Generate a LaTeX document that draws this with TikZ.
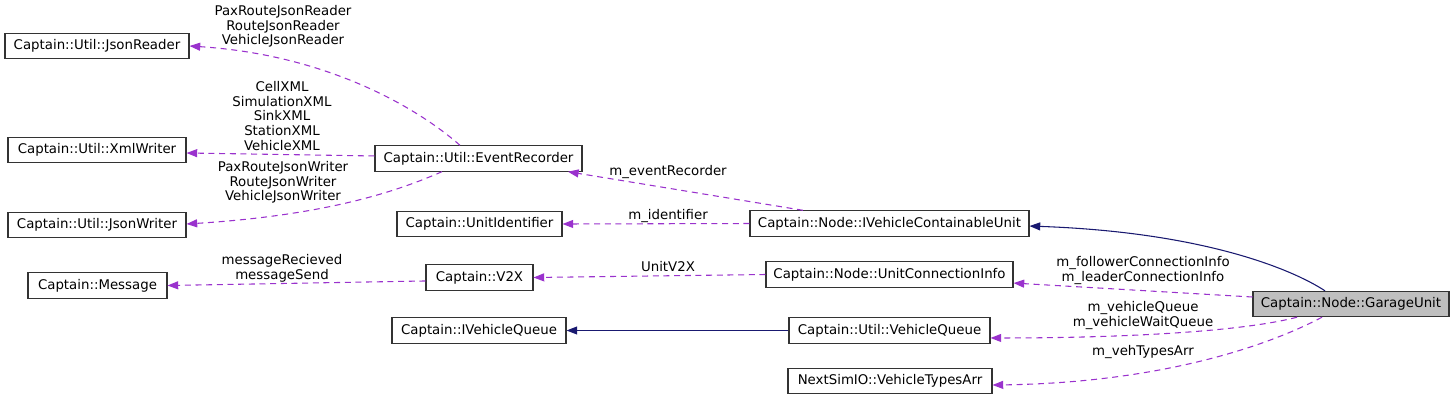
\documentclass[tikz,border=0pt]{standalone}
\usepackage{fontspec}
\setmainfont{DejaVu Sans}
\usetikzlibrary{arrows.meta}
\definecolor{dep}{HTML}{9A32CD}
\definecolor{inh}{HTML}{191970}
\definecolor{bord}{HTML}{333333}
\definecolor{cur}{HTML}{BFBFBF}
\tikzset{
  cls/.style={draw=bord, line width=0.8pt, fill=white, minimum height=19pt, inner sep=0pt,
    font=\fontsize{10}{11}\selectfont},
  curcls/.style={cls, fill=cur},
  usearrow/.style={draw=dep, line width=0.8pt, dash pattern=on 4.5pt off 3.5pt,
    -{Triangle[length=8pt,width=6pt,fill=dep]}},
  inharrow/.style={draw=inh, line width=0.8pt, -{Triangle[length=8pt,width=6pt,fill=inh]}},
  lbl/.style={align=center, inner sep=0pt, font=\fontsize{10}{10.9}\selectfont}
}
\begin{document}
\begin{tikzpicture}[x=0.75pt, y=-0.75pt]
\useasboundingbox (0,0) rectangle (1455,400);
% nodes
\node[cls, minimum width=138pt] (jr) at (97,46) {Captain::Util::JsonReader};
\node[cls, minimum width=133.5pt] (xw) at (97,150) {Captain::Util::XmlWriter};
\node[cls, minimum width=133.5pt] (jw) at (97,225) {Captain::Util::JsonWriter};
\node[cls, minimum width=104.25pt] (msg) at (97.5,285.5) {Captain::Message};
\node[cls, minimum width=155.25pt] (er) at (478.5,158.5) {Captain::Util::EventRecorder};
\node[cls, minimum width=123.75pt] (ui) at (479.5,224) {Captain::UnitIdentifier};
\node[cls, minimum width=80.25pt] (v2x) at (479.5,277.5) {Captain::V2X};
\node[cls, minimum width=130.5pt] (ivq) at (479,330.5) {Captain::IVehicleQueue};
\node[cls, minimum width=209.25pt] (ivcu) at (889.5,223.5) {Captain::Node::IVehicleContainableUnit};
\node[cls, minimum width=185.25pt] (uci) at (889.5,274.5) {Captain::Node::UnitConnectionInfo};
\node[cls, minimum width=150.75pt] (vq) at (889.5,330.5) {Captain::Util::VehicleQueue};
\node[cls, minimum width=153pt] (vta) at (890,381) {NextSimIO::VehicleTypesArr};
\node[curcls, minimum width=147pt] (gu) at (1351,304) {Captain::Node::GarageUnit};
% edges
\draw[inharrow] ([xshift=-19.5pt]gu.north) .. controls (1290,268) and (1200,232) .. ([yshift=-1.9pt]ivcu.east);
\draw[usearrow] ([yshift=5.25pt]gu.west) -- ([yshift=-6.4pt]uci.east);
\draw[usearrow] ([xshift=-40.5pt]gu.south) .. controls (1240,332) and (1120,338) .. ([yshift=-5.6pt]vq.east);
\draw[usearrow] ([xshift=-21.75pt]gu.south) .. controls (1260,350) and (1150,383) .. ([yshift=-3pt]vta.east);
\draw[inharrow] (vq.west) -- (ivq.east);
\draw[usearrow] (uci.west) -- (v2x.east);
\draw[usearrow] ([yshift=-2.6pt]v2x.west) -- (msg.east);
\draw[usearrow] (ivcu.west) -- (ui.east);
\draw[usearrow] ([xshift=-64.9pt]ivcu.north) -- ([xshift=67.1pt]er.south);
\draw[usearrow] ([xshift=-13.9pt]er.north) .. controls (420,110) and (330,55) .. (jr.east);
\draw[usearrow] ([yshift=1.9pt]er.west) -- ([yshift=-2.25pt]xw.east);
\draw[usearrow] ([xshift=-27.4pt]er.south) .. controls (400,190) and (330,215) .. ([yshift=0.75pt]jw.east);
% labels
\node[lbl] (l1) at (283,26.5) {PaxRouteJsonReader\\RouteJsonReader\\VehicleJsonReader};
\node[lbl] (l2) at (282,116) {CellXML\\SimulationXML\\SinkXML\\StationXML\\VehicleXML};
\node[lbl] (l3) at (283,182.5) {PaxRouteJsonWriter\\RouteJsonWriter\\VehicleJsonWriter};
\node[lbl] (l4) at (282,268.5) {messageRecieved\\messageSend};
\node[lbl] (l5) at (668,172) {m\_eventRecorder};
\node[lbl] (l6) at (668,216) {m\_identifier};
\node[lbl] (l7) at (668,267) {UnitV2X};
\node[lbl] (l8) at (1143,270.5) {m\_followerConnectionInfo\\m\_leaderConnectionInfo};
\node[lbl] (l9) at (1143,315.5) {m\_vehicleQueue\\m\_vehicleWaitQueue};
\node[lbl] (l10) at (1143,352) {m\_vehTypesArr};
\end{tikzpicture}
\end{document}
